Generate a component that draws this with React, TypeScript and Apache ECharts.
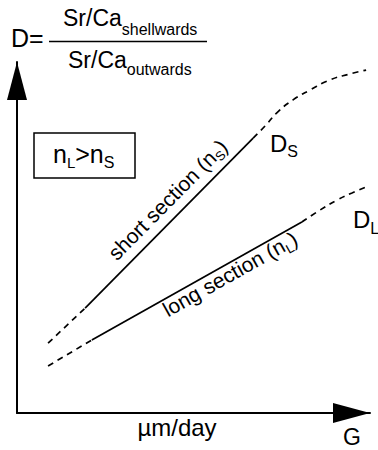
import React, { useEffect, useRef } from 'react';
import * as echarts from 'echarts';

const FONT = '"Liberation Sans", Arial, Helvetica, sans-serif';

// conceptual axis ranges (no ticks shown)
const xRange = [0, 100];
const yRange = [0, 100];

// D vs growth rate G, short section (n_S) and long section (n_L)
const shortLowerDashed = [[8.8, 19.9], [19.3, 29.9]];
const shortSolid = [[19.3, 29.9], [66.9, 78.3]];
const shortUpperDashed = [[66.9, 78.3], [70.3, 81.8], [73.9, 85.8], [78.2, 89.2], [83.0, 92.0], [88.7, 94.9], [94.3, 96.6], [98.9, 97.7]];
const longLowerDashed = [[8.8, 13.4], [21.2, 20.8]];
const longSolid = [[21.2, 20.8], [80.7, 54.4]];
const longUpperDashed = [[80.7, 54.4], [85.8, 57.8], [90.7, 60.7], [94.9, 62.7], [98.9, 64.4]];

const xUnitLabel = 'µm/day';
const xAxisName = 'G';
const shortLabel = ['short section (n', 'S', ')'];
const longLabel = ['long section (n', 'L', ')'];

let measureCtx: CanvasRenderingContext2D | null = null;
function measure(t: string, fs: number): number {
  if (!measureCtx) measureCtx = document.createElement('canvas').getContext('2d');
  if (!measureCtx) return t.length * fs * 0.5;
  measureCtx.font = `${fs}px ${FONT}`;
  return measureCtx.measureText(t).width;
}

type Seg = { t: string; fs: number; dy?: number };
// (x, y): baseline anchor (or central line if middle)
function run(segs: Seg[], x: number, y: number, opts: { align?: 'left' | 'center'; rotation?: number; middle?: boolean } = {}) {
  const widths = segs.map((s) => measure(s.t, s.fs));
  const total = widths.reduce((a, b) => a + b, 0);
  let cx = opts.align === 'center' ? -total / 2 : 0;
  const base = opts.middle ? 0.35 * segs[0].fs : 0;
  const children = segs.map((s, i) => {
    const el = {
      type: 'text',
      style: {
        text: s.t,
        x: cx,
        y: base + (s.dy || 0) - 0.35 * s.fs,
        fontSize: s.fs,
        fontFamily: FONT,
        fill: '#000',
        align: 'left',
        verticalAlign: 'middle',
      },
    };
    cx += widths[i];
    return el;
  });
  return { type: 'group', x, y, rotation: opts.rotation || 0, children };
}

export default function App() {
  const ref = useRef<HTMLDivElement>(null);
  useEffect(() => {
    if (!ref.current) return;
    const chart = echarts.init(ref.current, null, { renderer: 'svg' });
    const dashed = { color: '#000', width: 1.7, type: [6, 5] as any };
    const solid = { color: '#000', width: 1.7, type: 'solid' as any };
    const mk = (data: number[][], lineStyle: any, smooth = false) => ({
      type: 'line',
      data,
      symbol: 'none',
      smooth,
      clip: false,
      silent: true,
      lineStyle,
    });
    const axisCommon = {
      type: 'value',
      axisTick: { show: false },
      axisLabel: { show: false },
      splitLine: { show: false },
    };
    chart.setOption({
      animation: false,
      backgroundColor: '#fff',
      grid: { left: 17, top: 62, right: 8, bottom: 37 },
      xAxis: {
        ...axisCommon,
        min: xRange[0],
        max: xRange[1],
        axisLine: {
          show: true,
          lineStyle: { color: '#000', width: 2 },
          symbol: ['none', 'triangle'],
          symbolSize: [20, 37],
          symbolOffset: [0, -18.5],
        },
      },
      yAxis: {
        ...axisCommon,
        min: yRange[0],
        max: yRange[1],
        axisLine: {
          show: true,
          lineStyle: { color: '#000', width: 2 },
          symbol: ['none', 'triangle'],
          symbolSize: [20, 38],
          symbolOffset: [0, -19],
        },
      },
      series: [
        mk(shortLowerDashed, dashed),
        mk(shortSolid, solid),
        mk(shortUpperDashed, dashed, true),
        mk(longLowerDashed, dashed),
        mk(longSolid, solid),
        mk(longUpperDashed, dashed, true),
      ],
      graphic: [
        // formula
        run([{ t: 'D=', fs: 25 }], 11, 47),
        { type: 'line', shape: { x1: 49, y1: 41.5, x2: 207, y2: 41.5 }, style: { stroke: '#000', lineWidth: 1.5 } },
        run([{ t: 'Sr/Ca', fs: 23 }, { t: 'shellwards', fs: 16, dy: 9 }], 63, 26),
        run([{ t: 'Sr/Ca', fs: 23 }, { t: 'outwards', fs: 16, dy: 7 }], 68, 68),
        // box
        { type: 'rect', shape: { x: 34, y: 133, width: 101, height: 45 }, style: { fill: 'none', stroke: '#000', lineWidth: 1.5 } },
        run([{ t: 'n', fs: 25 }, { t: 'L', fs: 15, dy: 5 }, { t: '>', fs: 25 }, { t: 'n', fs: 25 }, { t: 'S', fs: 16, dy: 5 }], 53, 163),
        // curve labels
        run([{ t: 'D', fs: 24 }, { t: 'S', fs: 16, dy: 5 }], 270, 152),
        run([{ t: 'D', fs: 24 }, { t: 'L', fs: 16, dy: 6 }], 353, 228),
        run([{ t: shortLabel[0], fs: 21 }, { t: shortLabel[1], fs: 13, dy: 4 }, { t: shortLabel[2], fs: 21 }], 167.6, 199.6, { align: 'center', rotation: Math.atan2(170, 168), middle: true }),
        run([{ t: longLabel[0], fs: 21 }, { t: longLabel[1], fs: 13, dy: 4 }, { t: longLabel[2], fs: 21 }], 230, 274, { align: 'center', rotation: Math.atan2(118, 210), middle: true }),
        // x axis texts
        run([{ t: xUnitLabel, fs: 24 }], 177, 436, { align: 'center' }),
        run([{ t: xAxisName, fs: 23 }], 352, 445, { align: 'center' }),
      ],
    });
    return () => chart.dispose();
  }, []);
  return (
    <div
      ref={ref}
      style={{ position: 'fixed', left: 0, top: 0, width: 378, height: 450, background: '#fff' }}
    />
  );
}
